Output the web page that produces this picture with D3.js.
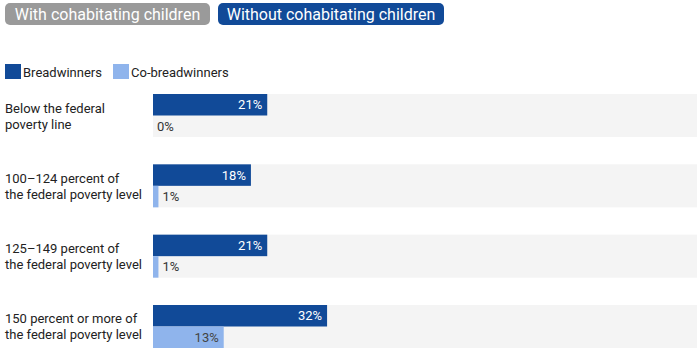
<!DOCTYPE html>
<html>
<head>
<meta charset="utf-8">
<script src="https://cdn.jsdelivr.net/npm/d3@7"></script>
<style>
  html, body { margin: 0; padding: 0; background: #fff; }
  svg { display: block; font-family: Roboto, "Noto Sans", sans-serif; }
</style>
</head>
<body>
<svg id="chart" width="700" height="352"></svg>
<script>
const buttons = ["With cohabitating children", "Without cohabitating children"];
const seriesNames = ["Breadwinners", "Co-breadwinners"];
const categories = [
  ["Below the federal", "poverty line"],
  ["100\u2013124 percent of", "the federal poverty level"],
  ["125\u2013149 percent of", "the federal poverty level"],
  ["150 percent or more of", "the federal poverty level"]
];
const breadwinners = [21, 18, 21, 32];
const coBreadwinners = [0, 1, 1, 13];

const colors = ["#114a98", "#8fb4ec"];
const svg = d3.select("#chart");

// Buttons
const btnData = [
  {label: buttons[0], x: 5, w: 205, fill: "#9a9a9a"},
  {label: buttons[1], x: 218, w: 226, fill: "#114a98"}
];
const btn = svg.selectAll("g.btn").data(btnData).join("g").attr("class", "btn");
btn.append("rect")
  .attr("x", d => d.x).attr("y", 3).attr("width", d => d.w).attr("height", 22)
  .attr("rx", 5).attr("fill", d => d.fill);
btn.append("text")
  .attr("x", d => d.x + d.w / 2).attr("y", 20)
  .attr("text-anchor", "middle").attr("fill", "#fff")
  .attr("font-size", 16).text(d => d.label);

// Legend
const legX = [5, 113];
const leg = svg.selectAll("g.leg").data(seriesNames).join("g").attr("class", "leg");
leg.append("rect").attr("x", (d, i) => legX[i]).attr("y", 64)
  .attr("width", 16).attr("height", 15).attr("fill", (d, i) => colors[i]);
leg.append("text").attr("x", (d, i) => legX[i] + 18).attr("y", 76.5)
  .attr("font-size", 13).attr("fill", "#222").text(d => d);

// Scales
const idx = categories.map((d, i) => i);
const y = d3.scaleBand().domain(idx).range([94, 348]).paddingInner(0.3886).paddingOuter(0);
const y1 = d3.scaleBand().domain([0, 1]).range([0, y.bandwidth()]);
const x = d3.scaleLinear().domain([0, 100]).range([153, 697]);

// Background bands
svg.selectAll("rect.band").data(idx).join("rect").attr("class", "band")
  .attr("x", x(0)).attr("y", d => y(d))
  .attr("width", x(100) - x(0)).attr("height", y.bandwidth())
  .attr("fill", "#f4f4f4");

// Category labels
const lab = svg.selectAll("text.cat").data(idx).join("text").attr("class", "cat")
  .attr("font-size", 13).attr("fill", "#222");
lab.each(function(d) {
  const t = d3.select(this);
  const cy = y(d) + y.bandwidth() / 2;
  categories[d].forEach((line, j) => {
    t.append("tspan").attr("x", 5).attr("y", cy - 3 + j * 16).text(line);
  });
});

// Bars
const seriesVals = [breadwinners, coBreadwinners];
const rows = [];
idx.forEach(i => seriesVals.forEach((vals, s) => rows.push({i, s, v: vals[i]})));

svg.selectAll("rect.bar").data(rows).join("rect").attr("class", "bar")
  .attr("x", x(0)).attr("y", d => y(d.i) + y1(d.s))
  .attr("width", d => x(d.v) - x(0)).attr("height", y1.bandwidth())
  .attr("fill", d => colors[d.s]);

// Value labels
svg.selectAll("text.val").data(rows).join("text").attr("class", "val")
  .attr("font-size", 13)
  .attr("y", d => y(d.i) + y1(d.s) + y1.bandwidth() / 2 + 4.5)
  .text(d => d.v + "%")
  .each(function(d) {
    const t = d3.select(this);
    const tw = this.getComputedTextLength();
    const w = x(d.v) - x(0);
    if (w > tw + 10) {
      t.attr("x", x(d.v) - 5).attr("text-anchor", "end")
       .attr("fill", d.s === 0 ? "#fff" : "#444");
    } else {
      t.attr("x", x(d.v) + 4).attr("text-anchor", "start").attr("fill", "#333");
    }
  });
</script>
</body>
</html>
